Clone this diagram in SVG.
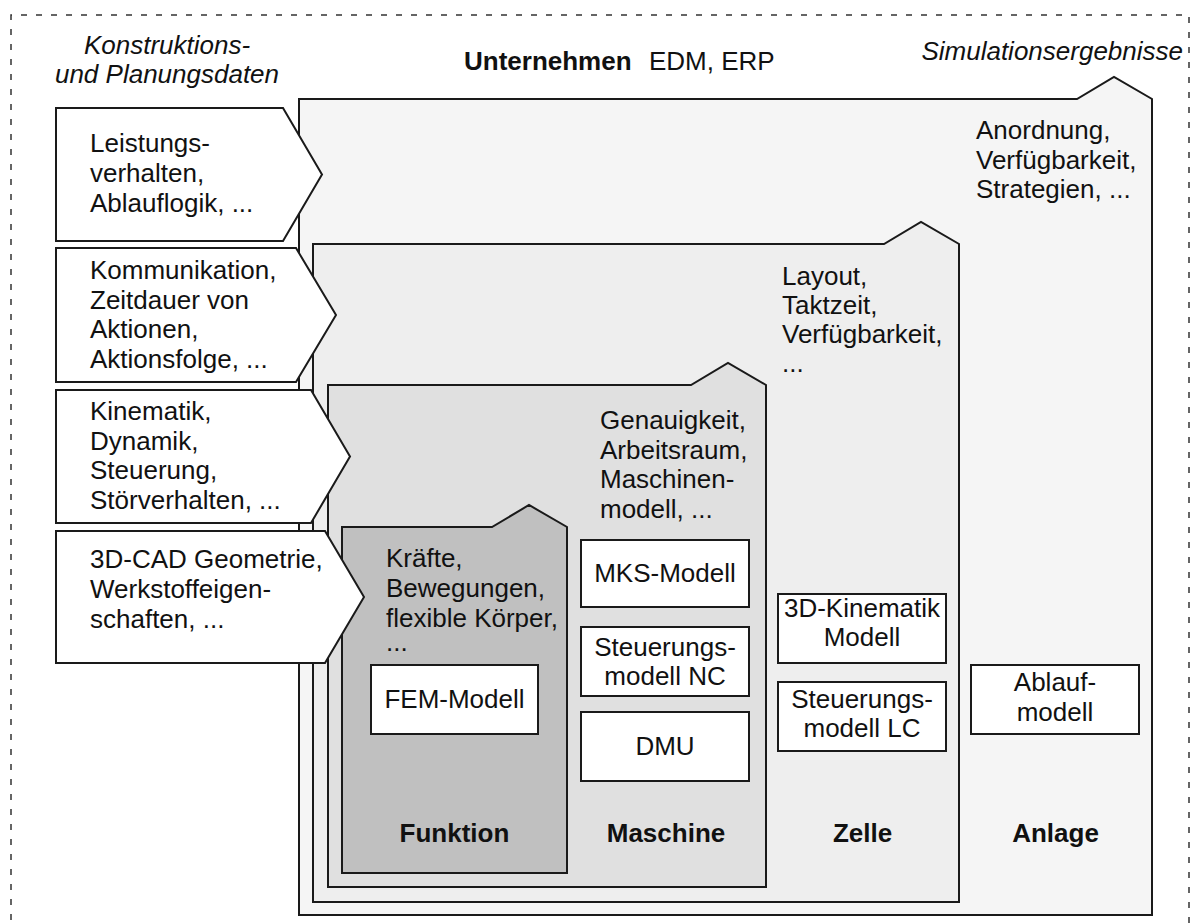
<svg xmlns="http://www.w3.org/2000/svg" width="1201" height="923" viewBox="0 0 1201 923">
  <style>
    text { font-family: "Liberation Sans", Arial, Helvetica, sans-serif; font-size: 26px; fill: #111; }
    .it { font-style: italic; }
    .b { font-weight: bold; }
    .mid { text-anchor: middle; }
    .level { stroke: #1a1a1a; stroke-width: 2; stroke-linejoin: miter; }
    .wbox { fill: #fff; stroke: #1a1a1a; stroke-width: 2; }
    .input { fill: #fff; stroke: #1a1a1a; stroke-width: 2; stroke-linejoin: miter; }
    .frame { fill: none; stroke: #333; stroke-width: 1.5; stroke-dasharray: 6 9; }
  </style>

  <rect width="1201" height="923" fill="#fff"/>

  <!-- dashed system boundary -->
  <path class="frame" d="M11,935 V15 H1189 V935"/>

  <!-- header labels -->
  <g id="header">
    <text class="it mid" x="167" y="54">Konstruktions-</text>
    <text class="it mid" x="167" y="83">und Planungsdaten</text>
    <text x="464" y="70"><tspan class="b">Unternehmen</tspan><tspan x="649">EDM, ERP</tspan></text>
    <text class="it" x="1183" y="60" text-anchor="end">Simulationsergebnisse</text>
  </g>

  <!-- nested levels -->
  <g id="anlage">
    <path class="level" fill="#f5f5f5" d="M299,99 H1077 L1114,77 L1152,99 V915 H299 Z"/>
    <text x="976" y="139">Anordnung,</text>
    <text x="976" y="168.5">Verfügbarkeit,</text>
    <text x="976" y="198">Strategien, ...</text>
    <text class="b mid" x="1055.5" y="842">Anlage</text>
  </g>

  <g id="zelle">
    <path class="level" fill="#eeeeee" d="M313,244 H884 L921,222 L959,244 V902 H313 Z"/>
    <text x="782" y="285">Layout,</text>
    <text x="782" y="314">Taktzeit,</text>
    <text x="782" y="343">Verfügbarkeit,</text>
    <text x="782" y="372">...</text>
    <text class="b mid" x="862.5" y="842">Zelle</text>
  </g>

  <g id="maschine">
    <path class="level" fill="#e0e0e0" d="M328,385 H691 L728,363 L766,385 V887 H328 Z"/>
    <text x="600" y="429">Genauigkeit,</text>
    <text x="600" y="458.5">Arbeitsraum,</text>
    <text x="600" y="488">Maschinen-</text>
    <text x="600" y="517.5">modell, ...</text>
    <text class="b mid" x="666" y="842">Maschine</text>
  </g>

  <g id="funktion">
    <path class="level" fill="#c0c0c0" d="M342,527 H492 L529,505 L567,527 V873 H342 Z"/>
    <text x="386" y="567">Kräfte,</text>
    <text x="386" y="597">Bewegungen,</text>
    <text x="386" y="627">flexible Körper,</text>
    <text x="386" y="651">...</text>
    <text class="b mid" x="454.5" y="842">Funktion</text>
  </g>

  <!-- models -->
  <g id="fem-modell">
    <rect class="wbox" x="371" y="665" width="167" height="69"/>
    <text class="mid" x="454.5" y="708">FEM-Modell</text>
  </g>
  <g id="mks-modell">
    <rect class="wbox" x="581" y="540" width="168" height="67"/>
    <text class="mid" x="665" y="582">MKS-Modell</text>
  </g>
  <g id="steuerungsmodell-nc">
    <rect class="wbox" x="581" y="627" width="168" height="69"/>
    <text class="mid" x="665" y="656">Steuerungs-</text>
    <text class="mid" x="665" y="685">modell NC</text>
  </g>
  <g id="dmu">
    <rect class="wbox" x="581" y="712" width="168" height="69"/>
    <text class="mid" x="665" y="755">DMU</text>
  </g>
  <g id="kinematik-modell">
    <rect class="wbox" x="778" y="594" width="168" height="69"/>
    <text class="mid" x="862" y="617">3D-Kinematik</text>
    <text class="mid" x="862" y="646">Modell</text>
  </g>
  <g id="steuerungsmodell-lc">
    <rect class="wbox" x="778" y="682" width="168" height="69"/>
    <text class="mid" x="862" y="708">Steuerungs-</text>
    <text class="mid" x="862" y="737">modell LC</text>
  </g>
  <g id="ablaufmodell">
    <rect class="wbox" x="971" y="665" width="168" height="69"/>
    <text class="mid" x="1055" y="691">Ablauf-</text>
    <text class="mid" x="1055" y="721">modell</text>
  </g>

  <!-- input data arrows feeding each level -->
  <g id="connectors">
    <g id="input-anlage">
      <path class="input" d="M56,108 H283 L322,174.5 L283,241 H56 Z"/>
      <text x="90" y="152">Leistungs-</text>
      <text x="90" y="182">verhalten,</text>
      <text x="90" y="212">Ablauflogik, ...</text>
    </g>
    <g id="input-zelle">
      <path class="input" d="M56,248 H296 L336,315 L296,382 H56 Z"/>
      <text x="90" y="279">Kommunikation,</text>
      <text x="90" y="308.5">Zeitdauer von</text>
      <text x="90" y="338">Aktionen,</text>
      <text x="90" y="367.5">Aktionsfolge, ...</text>
    </g>
    <g id="input-maschine">
      <path class="input" d="M56,390 H311 L350,456.5 L311,523 H56 Z"/>
      <text x="90" y="420">Kinematik,</text>
      <text x="90" y="450">Dynamik,</text>
      <text x="90" y="479">Steuerung,</text>
      <text x="90" y="509">Störverhalten, ...</text>
    </g>
    <g id="input-funktion">
      <path class="input" d="M56,531 H325 L364,597 L325,663 H56 Z"/>
      <text x="90" y="568">3D-CAD Geometrie,</text>
      <text x="90" y="598">Werkstoffeigen-</text>
      <text x="90" y="628">schaften, ...</text>
    </g>
  </g>
</svg>
